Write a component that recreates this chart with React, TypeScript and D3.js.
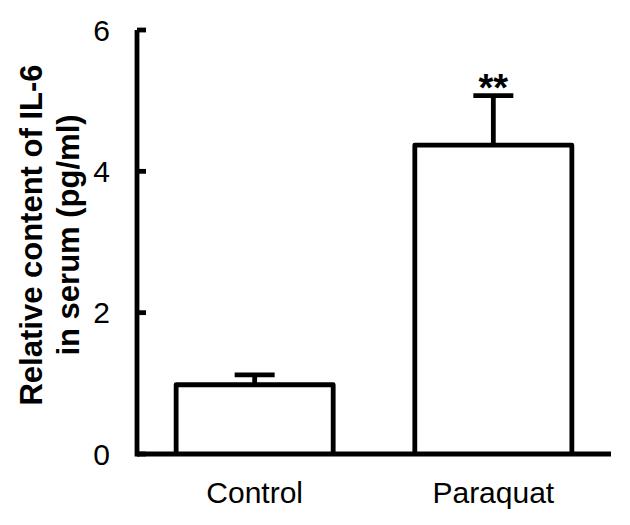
import React from "react";
import * as d3 from "d3";

const categories = ["Control", "Paraquat"];
const means = [0.98, 4.37];
const errors = [0.14, 0.7];
const significance = ["", "**"];
const yTicks = [0, 2, 4, 6];

export default function App() {
  const W = 630, H = 525;
  const x0 = 137, x1 = 611, yBottom = 454, yTop = 30;
  const y = d3.scaleLinear().domain([0, 6]).range([yBottom, yTop]);
  const x = d3.scaleBand<string>().domain(categories).range([x0, x1]).paddingInner(0.342).paddingOuter(0.164);
  const sw = 4.8;
  const font = "'Liberation Sans', Arial, sans-serif";
  const starFs = 38;
  return (
    <svg width={W} height={H} style={{ position: "absolute", left: 0, top: 0 }}>
      <rect width={W} height={H} fill="#fff" />
      {categories.map((c, i) => {
        const bx = x(c)!;
        const bw = x.bandwidth();
        const cx = bx + bw / 2;
        const top = y(means[i]);
        const et = y(means[i] + errors[i]);
        return (
          <g key={c}>
            <line x1={cx} x2={cx} y1={top} y2={et} stroke="#000" strokeWidth={sw} />
            <line x1={cx - 20} x2={cx + 20} y1={et} y2={et} stroke="#000" strokeWidth={sw} />
            <path d={`M${bx},${yBottom}V${top}H${bx + bw}V${yBottom}`} fill="#fff" stroke="#000" strokeWidth={sw} strokeLinejoin="round" />
            {significance[i] && (
              <text x={cx} y={et - 22 + 0.716 * starFs} textAnchor="middle" fontFamily={font} fontWeight="bold" fontSize={starFs}>{significance[i]}</text>
            )}
            <text x={cx} y={503} textAnchor="middle" fontFamily={font} fontSize={30}>{c}</text>
          </g>
        );
      })}
      <line x1={x0} x2={x1} y1={yBottom} y2={yBottom} stroke="#000" strokeWidth={sw} />
      <line x1={x0} x2={x0} y1={yTop} y2={yBottom + sw / 2} stroke="#000" strokeWidth={sw} />
      {yTicks.map((t) => (
        <g key={t}>
          <line x1={x0} x2={x0 + 9} y1={y(t)} y2={y(t)} stroke="#000" strokeWidth={sw} />
          <text x={110} y={y(t) + 10.5} textAnchor="end" fontFamily={font} fontSize={30}>{t}</text>
        </g>
      ))}
      <g transform={`translate(42,235) rotate(-90)`}>
        <text x={0} y={0} textAnchor="middle" fontFamily={font} fontWeight="bold" fontSize={31}>Relative content of IL-6</text>
        <text x={0} y={37} textAnchor="middle" fontFamily={font} fontWeight="bold" fontSize={31}>in serum (pg/ml)</text>
      </g>
    </svg>
  );
}
